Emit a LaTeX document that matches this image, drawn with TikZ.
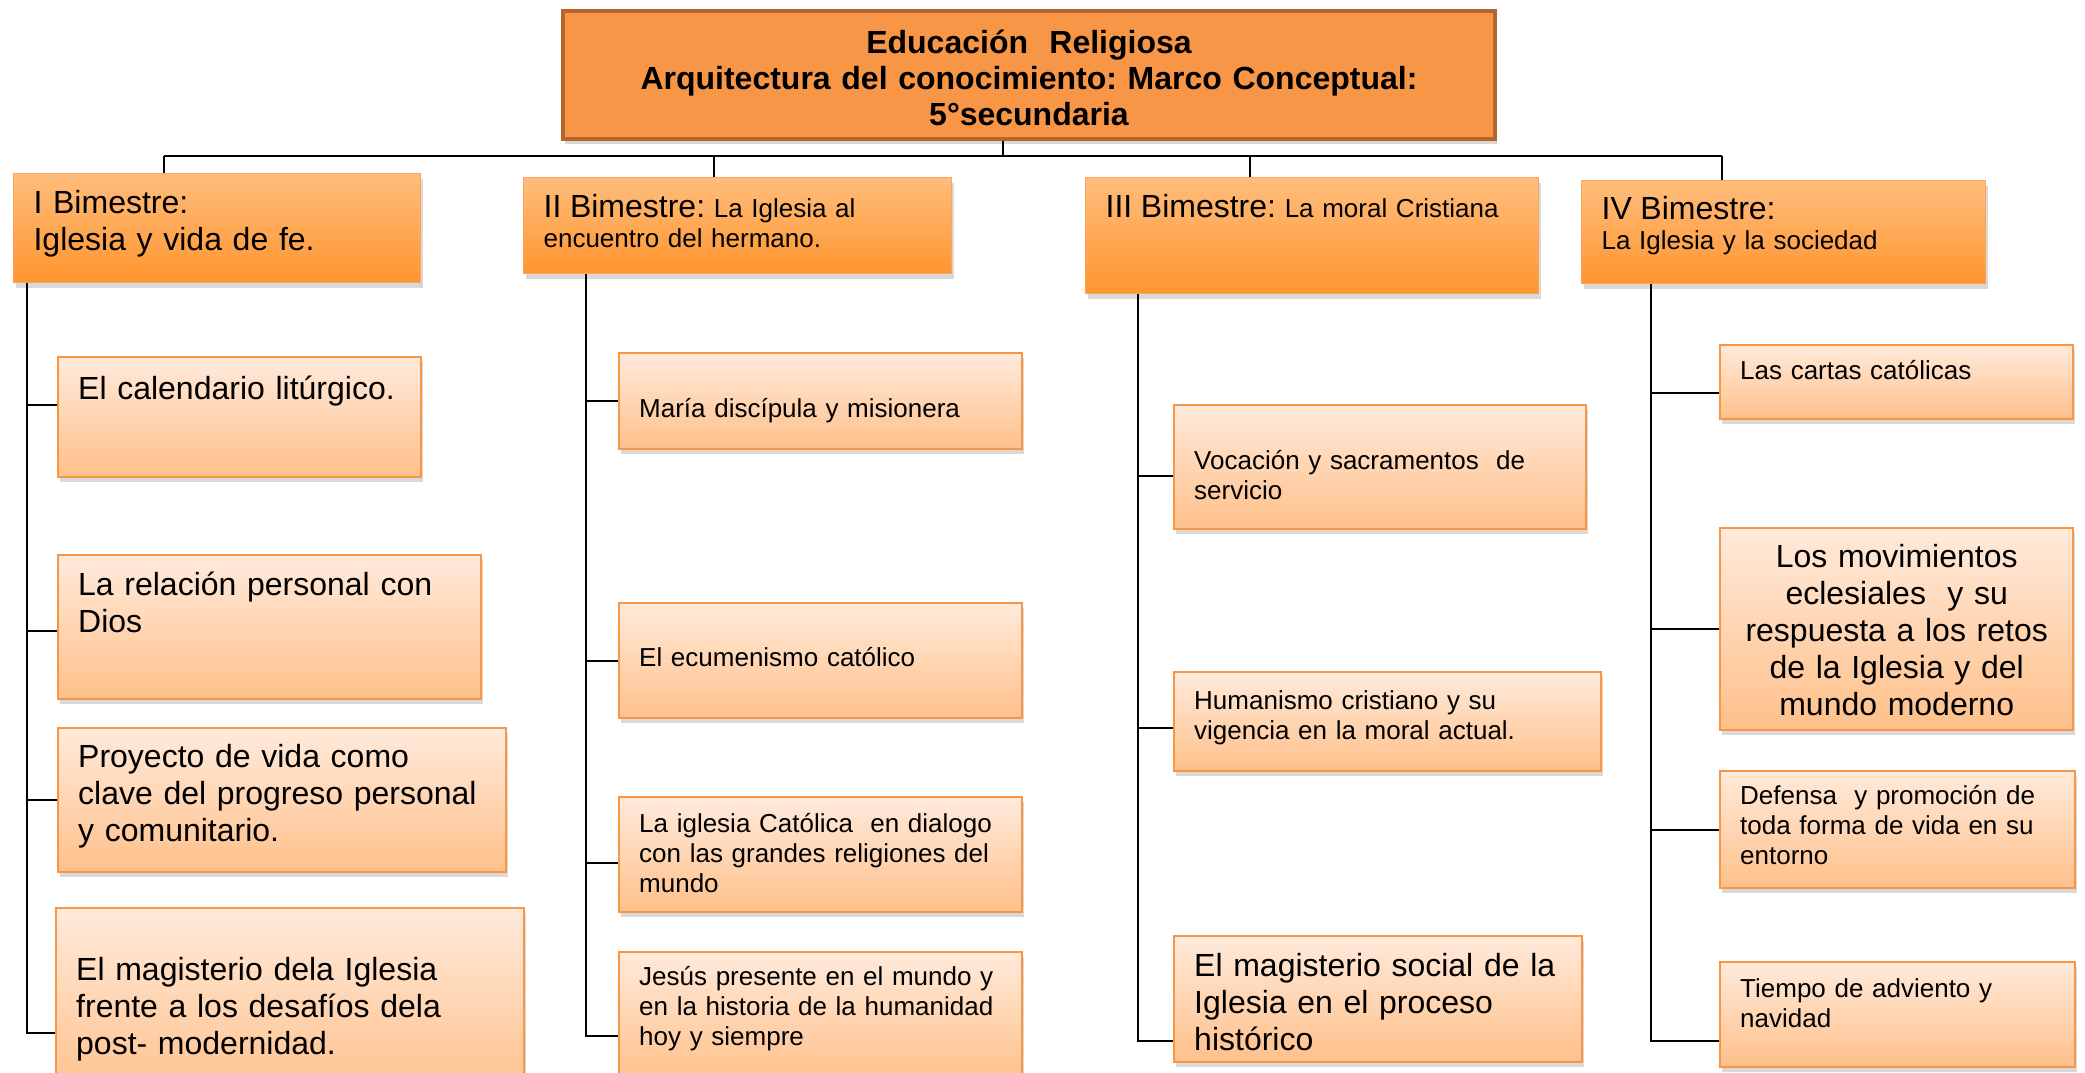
\documentclass[tikz,border=0pt]{standalone}
\usepackage{fontspec}
\setmainfont{Liberation Sans}
\usetikzlibrary{shadows}
\frenchspacing

\definecolor{titlefill}{HTML}{F79646}
\definecolor{titleline}{HTML}{B5662E}
\definecolor{headtop}{HTML}{FFBD7C}
\definecolor{headbot}{HTML}{FF952F}
\definecolor{headline}{HTML}{F9A55E}
\definecolor{leaftop}{HTML}{FFEADB}
\definecolor{leafbot}{HTML}{FFC08A}
\definecolor{leafline}{HTML}{F79646}

\newcommand\lrg{\fontsize{16}{18.5}\selectfont}
\newcommand\sml{\fontsize{13}{15}\selectfont}

\begin{document}
\begin{tikzpicture}[x=0.5pt,y=-0.5pt,
  box/.style={rectangle,anchor=north west,inner ysep=0pt,inner xsep=10pt,align=left,
    drop shadow={opacity=0.3,shadow xshift=1pt,shadow yshift=-2.5pt}},
  title node/.style={box,draw=titleline,line width=2pt,fill=titlefill,inner xsep=0pt,
    align=center,font=\bfseries\fontsize{16}{18}\selectfont},
  head node/.style={box,draw=headline,line width=0.6pt,top color=headtop,bottom color=headbot,font=\sml},
  leaf node/.style={box,draw=leafline,line width=1.2pt,top color=leaftop,bottom color=leafbot,font=\sml},
  link/.style={draw=black,line width=1.1pt}]

  \useasboundingbox (0,0) rectangle (2085,1072);
  \clip (0,0) rectangle (2085,1072);

  % title
  \node[title node,text width=466pt,text height=21pt,text depth=43pt] (title) at (561,9)
    {Educación\ \ Religiosa\\Arquitectura del conocimiento: Marco Conceptual:\\5°secundaria};

  % bimestres
  \node[head node,font=\lrg,text width=183.5pt,text height=20pt,text depth=34.5pt] (b1) at (13,173)
    {I Bimestre:\\Iglesia y vida de fe.};
  \node[head node,text width=194pt,text height=20pt,text depth=28pt] (b2) at (523,177)
    {{\lrg II Bimestre:} La Iglesia al\\encuentro del hermano.};
  \node[head node,text width=206.5pt,text height=20pt,text depth=38pt] (b3) at (1085,177)
    {{\lrg III Bimestre:} La moral Cristiana};
  \node[head node,text width=182pt,text height=19.5pt,text depth=32pt] (b4) at (1581,180)
    {{\lrg IV Bimestre:}\\La Iglesia y la sociedad};

  % I bimestre
  \node[leaf node,font=\lrg,text width=161.5pt,text height=21pt,text depth=39pt] (c1) at (57,356)
    {El calendario litúrgico.};
  \node[leaf node,font=\lrg,text width=191.5pt,text height=20pt,text depth=52pt] (c2) at (57,554)
    {La relación personal con\\Dios};
  \node[leaf node,font=\lrg,text width=204pt,text height=19.5pt,text depth=52.5pt] (c3) at (57,727)
    {Proyecto de vida como\\clave del progreso personal\\y comunitario.};
  \node[leaf node,font=\lrg,text width=214pt,text height=36pt,text depth=60.5pt] (c4) at (55,907)
    {El magisterio dela Iglesia\\frente a los desafíos dela\\post- modernidad.};

  % II bimestre
  \node[leaf node,text width=181.5pt,text height=32pt,text depth=16pt] (d1) at (618,352)
    {María discípula y misionera};
  \node[leaf node,text width=181.5pt,text height=31.5pt,text depth=26pt] (d2) at (618,602)
    {El ecumenismo católico};
  \node[leaf node,text width=181.5pt,text height=17.5pt,text depth=40pt] (d3) at (618,796)
    {La iglesia Católica\ \ en dialogo\\con las grandes religiones del\\mundo};
  \node[leaf node,text width=181.5pt,text height=16.5pt,text depth=48pt] (d4) at (618,951)
    {Jesús presente en el mundo y\\en la historia de la humanidad\\hoy y siempre};

  % III bimestre
  \node[leaf node,text width=186pt,text height=32pt,text depth=30pt] (e1) at (1173,404)
    {Vocación y sacramentos\ \ de\\servicio};
  \node[leaf node,text width=193.5pt,text height=18.5pt,text depth=31pt] (e2) at (1173,671)
    {Humanismo cristiano y su\\vigencia en la moral actual.};
  \node[leaf node,font=\lrg,text width=184pt,text height=20pt,text depth=43pt] (e3) at (1173,935)
    {El magisterio social de la\\Iglesia en el proceso\\histórico};

  % IV bimestre
  \node[leaf node,text width=156.5pt,text height=17pt,text depth=20pt] (f1) at (1719,344)
    {Las cartas católicas};
  \node[leaf node,font=\lrg,align=center,text width=156.5pt,text height=19.5pt,text depth=81.5pt] (f2) at (1719,527)
    {Los movimientos\\eclesiales\ \ y su\\respuesta a los retos\\de la Iglesia y del\\mundo moderno};
  \node[leaf node,text width=157.5pt,text height=16.5pt,text depth=42pt] (f3) at (1719,770)
    {Defensa\ \ y promoción de\\toda forma de vida en su\\entorno};
  \node[leaf node,text width=157.5pt,text height=17.5pt,text depth=35pt] (f4) at (1719,961)
    {Tiempo de adviento y\\navidad};

  % connectors
  \coordinate (t0) at (1003,156);
  \coordinate (t1) at (164,156);
  \coordinate (t2) at (714,156);
  \coordinate (t3) at (1250,156);
  \coordinate (t4) at (1722,156);
  \coordinate (s1) at (27,1033);
  \coordinate (s2) at (586,1036);
  \coordinate (s3) at (1138,1041);
  \coordinate (s4) at (1651,1041);

  \draw[link] (t0 |- title.south) -- (t0);
  \draw[link] (t1) -- (t4);
  \draw[link] (t1) -- (t1 |- b1.north);
  \draw[link] (t2) -- (t2 |- b2.north);
  \draw[link] (t3) -- (t3 |- b3.north);
  \draw[link] (t4) -- (t4 |- b4.north);

  \draw[link] (b1.south -| s1) -- (s1) -- (s1 -| c4.west);
  \draw[link] ([yshift=6pt]c1.west) -| (s1);
  \draw[link] ([yshift=-2pt]c2.west) -| (s1);
  \draw[link] (c3.west) -| (s1);

  \draw[link] (b2.south -| s2) -- (s2) -- (s2 -| d4.west);
  \draw[link] (d1.west) -| (s2);
  \draw[link] (d2.west) -| (s2);
  \draw[link] ([yshift=-4pt]d3.west) -| (s2);

  \draw[link] (b3.south -| s3) -- (s3) -- (s3 -| e3.west);
  \draw[link] ([yshift=-4.5pt]e1.west) -| (s3);
  \draw[link] ([yshift=-3pt]e2.west) -| (s3);

  \draw[link] (b4.south -| s4) -- (s4) -- (s4 -| f4.west);
  \draw[link] ([yshift=-5.5pt]f1.west) -| (s4);
  \draw[link] (f2.west) -| (s4);
  \draw[link] (f3.west) -| (s4);
\end{tikzpicture}
\end{document}
